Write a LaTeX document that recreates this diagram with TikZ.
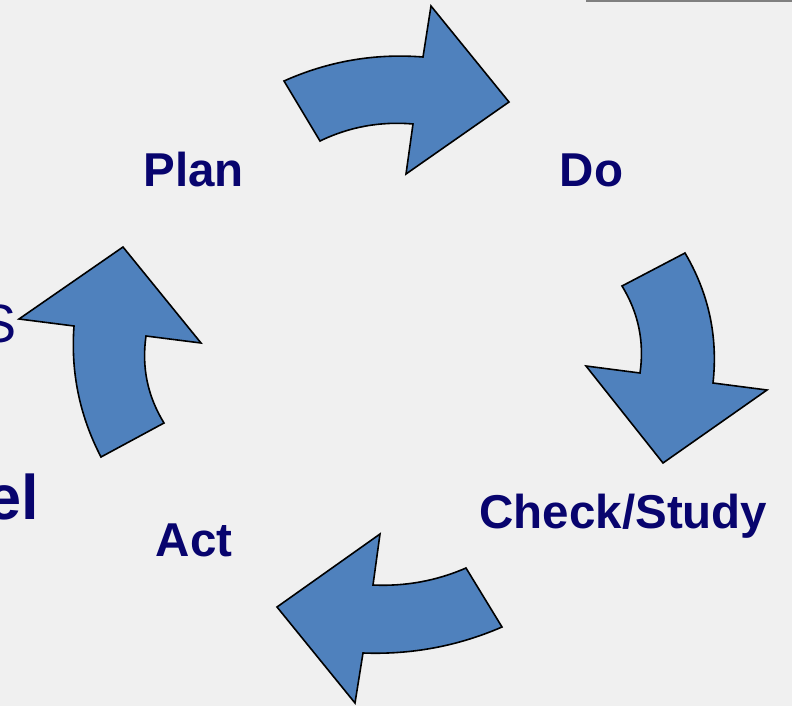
\documentclass[tikz,border=0pt]{standalone}
\usepackage{fontspec}
\setmainfont{Liberation Sans}
\usepackage{xcolor}
\usetikzlibrary{arrows,positioning}

\definecolor{slidebg}{RGB}{240,240,240}
\definecolor{cyclefill}{RGB}{79,129,189}
\definecolor{labelnavy}{RGB}{8,4,110}

\begin{document}
\begin{tikzpicture}[x=1pt,y=-1pt,semithick,
                    cyclearrow/.style={fill=cyclefill, draw=black, line width=1.6pt, line join=miter},
                    steplabel/.style={text=labelnavy, inner sep=0pt, anchor=base, font=\fontsize{47.5}{56}\selectfont\bfseries}]
  \tikzstyle{every node}=[inner sep=0pt]

  \fill[slidebg] (0,0) rectangle (792,706);
  \useasboundingbox (0,0) rectangle (792,706);
  \draw[gray, line width=2pt] (586,1) -- (792,1);

  % the four curved arrows of the cycle
  \draw[cyclearrow] (284,81) .. controls (328.3,61.2) and (374.7,53.2) .. (423,57) -- (431,6) -- (509,102)
        -- (406,174) -- (413,124) .. controls (380.4,121.2) and (349.4,126.8) .. (320,141) -- cycle;
  \draw[cyclearrow] (685,253) .. controls (708.7,293.2) and (718.1,336.6) .. (713,383) -- (767,390) -- (663,463)
        -- (586,366) -- (640,373) .. controls (644.5,341.9) and (638.5,312.9) .. (622,286) -- cycle;
  \draw[cyclearrow] (502,627) .. controls (457.7,646.2) and (411.3,654.8) .. (363,653) -- (355,703) -- (277,607)
        -- (380,534) -- (373,585) .. controls (405.3,586.5) and (436.3,580.9) .. (466,568) -- cycle;
  \draw[cyclearrow] (101,457) .. controls (79.6,415.8) and (70.6,372.2) .. (74,326) -- (19,319) -- (123,247)
        -- (201,343) -- (146,336) .. controls (141.5,367.1) and (147.5,396.1) .. (164,423) -- cycle;

  % step names
  \node[steplabel] (plan)  at (193.5,186) {Plan};
  \node[steplabel] (do)    at (591.5,186) {Do};
  \node[steplabel] (check) at (623.5,528) {Check/Study};
  \node[steplabel] (act)   at (194,556.5) {Act};

  % title pieces at the left edge
  \node[text=labelnavy, anchor=base east, font=\fontsize{54}{60}\selectfont] (sidetop) at (17,342) {S};
  \node[text=labelnavy, anchor=base east, font=\fontsize{63}{70}\selectfont\bfseries] (sidebot) at (39,519) {el};
\end{tikzpicture}
\end{document}
